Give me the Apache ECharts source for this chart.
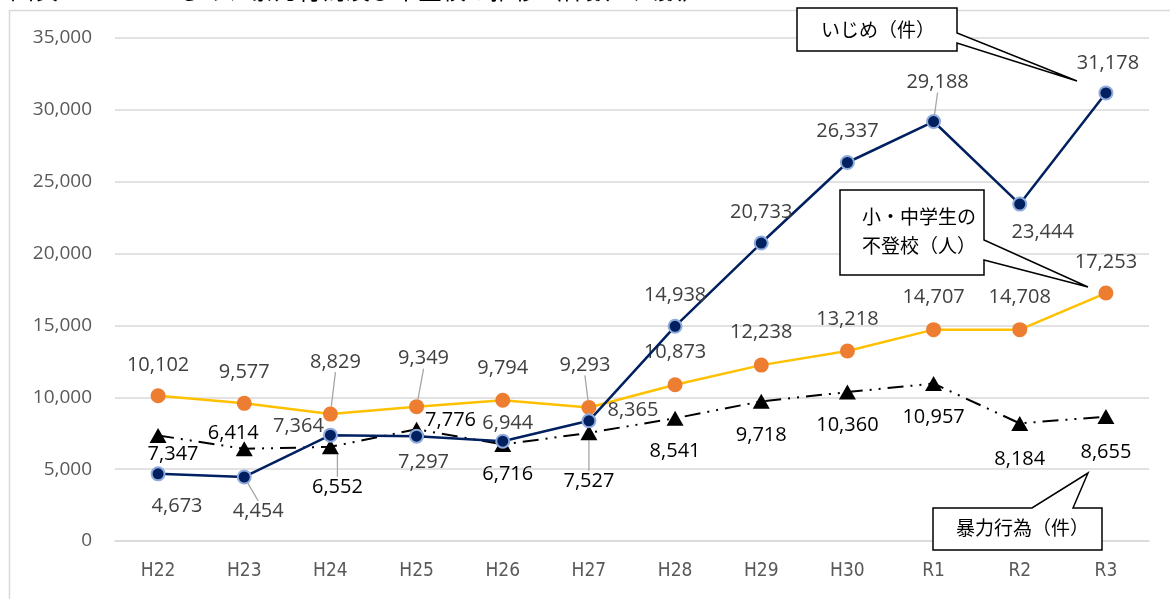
<!DOCTYPE html>
<html><head><meta charset="utf-8">
<script src="https://cdn.jsdelivr.net/npm/echarts@6/dist/echarts.min.js"></script>
<style>html,body{margin:0;padding:0;background:#fff}#c{width:1170px;height:599px}</style>
</head><body><div id="c"></div>
<script>
const categories = ['H22','H23','H24','H25','H26','H27','H28','H29','H30','R1','R2','R3'];
const bullying = [4673,4454,7364,7297,6944,8365,14938,20733,26337,29188,23444,31178];
const absence = [10102,9577,8829,9349,9794,9293,10873,12238,13218,14707,14708,17253];
const violence = [7347,6414,6552,7776,6716,7527,8541,9718,10360,10957,8184,8655];
const yTicks = [0,5000,10000,15000,20000,25000,30000,35000];

// label offsets (layout only)
const bullyOff = [[19,32],[14,34],[-32,-9],[7,26],[5,-18],[44,-10],[0,-31],[0,-31],[0,-31],[4,-39],[23,28],[2,-30]];
const bullyLead = [false,true,false,false,false,false,false,false,false,true,false,false];
const absOff = [[0,-31],[0,-31],[5,-52],[7,-48],[0,-32],[-4,-42],[0,-32],[0,-33],[0,-32],[0,-32],[0,-32],[0,-31]];
const absLead = [false,false,true,true,false,true,false,false,false,false,false,false];
const vioOff = [[15,19],[-11,-16],[7,40],[34,-9],[5,30],[0,48],[0,33],[0,34],[0,33],[0,34],[0,36],[0,36]];
const vioLead = [false,false,true,false,false,true,false,false,false,false,false,false];

const fmt = v => v.toLocaleString('en-US');
const NUMFONT = '"Open Sans", "Noto Sans", sans-serif';
const JPFONT = '"Noto Sans CJK JP", sans-serif';

function build(vals, leads) {
  return vals.map((v, i) => ({
    value: v,
    labelLine: { show: leads[i], lineStyle: { color: '#a6a6a6', width: 1.3 } }
  }));
}
function layoutFn(offs) {
  return p => ({ dx: offs[p.dataIndex][0], dy: offs[p.dataIndex][1] });
}

const chart = echarts.init(document.getElementById('c'));
chart.setOption({
  animation: false,
  grid: { left: 115, right: 21, top: 38, bottom: 58 },
  xAxis: {
    type: 'category', data: categories, boundaryGap: true,
    axisLine: { lineStyle: { color: '#d9d9d9', width: 1.5 } },
    axisTick: { show: false },
    axisLabel: { color: '#595959', fontSize: 19, margin: 21, fontFamily: '"DejaVu Sans Condensed", "Liberation Sans Narrow", sans-serif' }
  },
  yAxis: {
    type: 'value', min: yTicks[0], max: yTicks[yTicks.length-1], interval: yTicks[1]-yTicks[0],
    axisLine: { show: false }, axisTick: { show: false },
    splitLine: { lineStyle: { color: '#d9d9d9', width: 1.5 } },
    axisLabel: { color: '#595959', fontSize: 19, margin: 23, fontFamily: NUMFONT, formatter: v => fmt(v) }
  },
  series: [
    {
      name: '小・中学生の不登校（人）', type: 'line', data: build(absence, absLead),
      lineStyle: { color: '#FFC000', width: 2.5 },
      itemStyle: { color: '#ED7D31', borderWidth: 0 },
      symbol: 'circle', symbolSize: 15, z: 2,
      labelLayout: layoutFn(absOff),
      label: { show: true, position: 'inside', color: '#404040', fontSize: 20, fontFamily: NUMFONT, formatter: p => fmt(p.value) }
    },
    {
      name: '暴力行為（件）', type: 'line', data: build(violence, vioLead),
      lineStyle: { color: '#000', width: 2, type: [16, 7, 2, 7, 2, 7] },
      itemStyle: { color: '#000' },
      symbol: 'triangle', symbolSize: [17, 15], z: 3,
      labelLayout: layoutFn(vioOff),
      label: { show: true, position: 'inside', color: '#000', fontSize: 20, fontFamily: NUMFONT, formatter: p => fmt(p.value) }
    },
    {
      name: 'いじめ（件）', type: 'line', data: build(bullying, bullyLead),
      lineStyle: { color: '#002060', width: 2.5 },
      itemStyle: { color: '#002060', borderColor: '#8FAADC', borderWidth: 2 },
      symbol: 'circle', symbolSize: 13, z: 4,
      labelLayout: layoutFn(bullyOff),
      label: { show: true, position: 'inside', color: '#404040', fontSize: 20, fontFamily: NUMFONT, formatter: p => fmt(p.value) }
    }
  ],
  graphic: [
    { type: 'rect', shape: { x: 9.5, y: 10.5, width: 1200, height: 620 }, style: { fill: 'none', stroke: '#d9d9d9', lineWidth: 1.5 }, silent: true, z: -1 },
    { type: 'text', left: 10, top: -22, style: { text: '図表　　　　いじめ、暴力行為及び不登校の推移（件数・人数）', fontSize: 24, fontFamily: JPFONT, fill: '#000' } },
    { type: 'polygon', shape: { points: [[797,8],[957,8],[957,33],[1077,81],[957,43],[957,51],[797,51]] }, style: { fill: '#fff', stroke: '#000', lineWidth: 1.5 }, z: 100 },
    { type: 'text', x: 821, y: 30, z: 101, style: { text: 'いじめ（件）', fontSize: 19, fontFamily: JPFONT, fill: '#000', verticalAlign: 'middle' } },
    { type: 'polygon', shape: { points: [[840,190],[984,190],[984,240],[1088,287],[984,260],[984,275],[840,275]] }, style: { fill: '#fff', stroke: '#000', lineWidth: 1.5 }, z: 100 },
    { type: 'text', x: 862, y: 217, z: 101, style: { text: '小・中学生の', fontSize: 19, fontFamily: JPFONT, fill: '#000', verticalAlign: 'middle' } },
    { type: 'text', x: 862, y: 246, z: 101, style: { text: '不登校（人）', fontSize: 19, fontFamily: JPFONT, fill: '#000', verticalAlign: 'middle' } },
    { type: 'polygon', shape: { points: [[933,508],[1032,508],[1088,473],[1073,508],[1102,508],[1102,550],[933,550]] }, style: { fill: '#fff', stroke: '#000', lineWidth: 1.5 }, z: 100 },
    { type: 'text', x: 956, y: 528, z: 101, style: { text: '暴力行為（件）', fontSize: 19, fontFamily: JPFONT, fill: '#000', verticalAlign: 'middle' } }
  ]
});
</script></body></html>
